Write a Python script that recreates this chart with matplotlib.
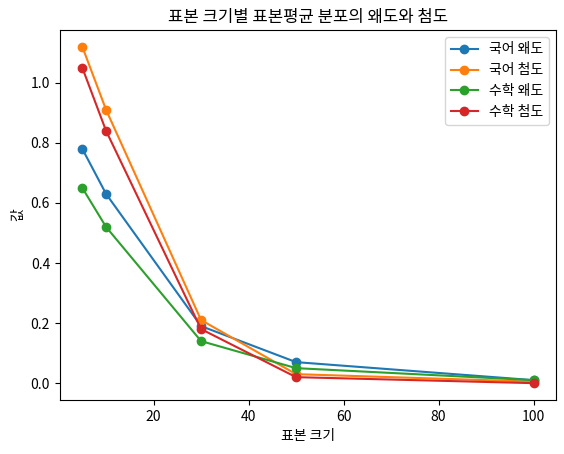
import matplotlib
matplotlib.use("Agg")
import matplotlib.pyplot as plt

plt.rcParams['font.family'] = ['Noto Sans CJK KR', 'DejaVu Sans']
plt.rcParams['axes.unicode_minus'] = False

sample_sizes = [5, 10, 30, 50, 100]
kor_skew = [0.78, 0.63, 0.19, 0.07, 0.01]
kor_kurt = [1.12, 0.91, 0.21, 0.03, 0.005]
math_skew = [0.65, 0.52, 0.14, 0.05, 0.01]
math_kurt = [1.05, 0.84, 0.18, 0.02, 0.0]

fig, ax = plt.subplots(figsize=(5.64, 4.54), dpi=100)
ax.plot(sample_sizes, kor_skew, "o-", label="국어 왜도")
ax.plot(sample_sizes, kor_kurt, "o-", label="국어 첨도")
ax.plot(sample_sizes, math_skew, "o-", label="수학 왜도")
ax.plot(sample_sizes, math_kurt, "o-", label="수학 첨도")

ax.set_title("표본 크기별 표본평균 분포의 왜도와 첨도")
ax.set_xlabel("표본 크기")
ax.set_ylabel("값")
ax.legend(loc="upper right")

fig.subplots_adjust(left=0.106, right=0.986, top=0.934, bottom=0.119)
fig.savefig("out.png", dpi=100)
